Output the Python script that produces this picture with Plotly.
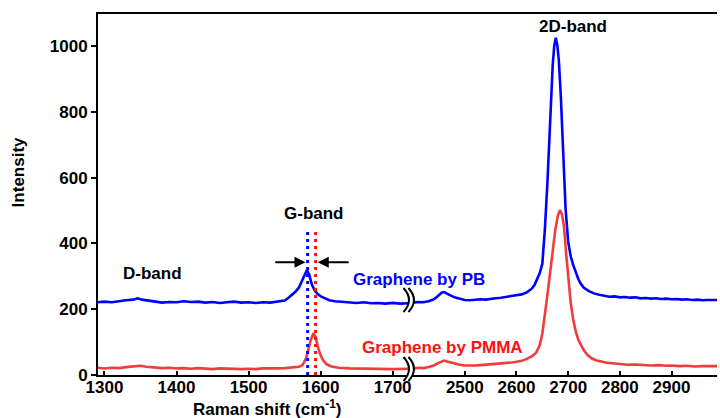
import plotly.graph_objects as go

# ---------------- data ----------------
# segment 1 (1291-1722 cm-1)
pb_x1 = [1291, 1300, 1310, 1320, 1330, 1340, 1346, 1352, 1360, 1370, 1380, 1390, 1400, 1410, 1420,
         1430, 1440, 1450, 1460, 1470, 1480, 1490, 1500, 1510, 1520, 1530, 1540, 1550, 1555, 1560,
         1565, 1570, 1575, 1578, 1581, 1584, 1588, 1592, 1596, 1601, 1606, 1612, 1620, 1630, 1640,
         1650, 1660, 1670, 1680, 1690, 1700, 1710, 1722]
pb_y1 = [221, 223, 221, 225, 227, 229, 233, 229, 227, 224, 220, 222, 221, 224, 222,
         223, 220, 222, 219, 221, 223, 220, 221, 219, 221, 220, 222, 226, 234, 243,
         253, 266, 288, 304, 319, 306, 274, 256, 246, 238, 232, 227, 224, 222, 221,
         219, 221, 218, 219, 217, 219, 217, 218]

pm_x1 = [1291, 1300, 1310, 1320, 1330, 1340, 1350, 1358, 1370, 1380, 1390, 1400, 1410, 1420, 1430,
         1440, 1450, 1460, 1470, 1480, 1490, 1500, 1510, 1520, 1530, 1540, 1550, 1560, 1570, 1575,
         1580, 1583, 1586, 1590, 1593, 1596, 1599, 1603, 1608, 1615, 1625, 1640, 1660, 1680, 1700,
         1722]
pm_y1 = [22, 20, 22, 21, 24, 26, 28, 25, 23, 21, 22, 20, 21, 19, 21,
         20, 18, 20, 19, 20, 18, 19, 18, 20, 19, 20, 21, 22, 25, 30,
         52, 78, 104, 127, 116, 88, 66, 46, 33, 26, 22, 20, 19, 20, 18,
         19]

# segment 2 (2391-2988 cm-1)
pb_x2 = [2391, 2400, 2410, 2420, 2430, 2440, 2448, 2455, 2460, 2466, 2472, 2480, 2490, 2500, 2510,
         2520, 2530, 2540, 2550, 2560, 2570, 2580, 2590, 2600, 2610, 2620, 2630, 2635, 2640, 2645,
         2650, 2655, 2660, 2665, 2670, 2673, 2676, 2679, 2682, 2686, 2690, 2695, 2700, 2705, 2710,
         2715, 2720, 2725, 2730, 2740, 2750, 2760, 2770, 2780, 2790, 2800, 2810, 2820, 2830, 2840,
         2850, 2860, 2870, 2880, 2890, 2900, 2910, 2920, 2930, 2940, 2950, 2960, 2970, 2980, 2988]
pb_y2 = [221, 220, 222, 221, 224, 230, 240, 250, 252, 248, 242, 236, 231, 228, 227,
         229, 230, 229, 232, 233, 235, 237, 239, 241, 245, 251, 263, 274, 290, 310,
         338, 445, 590, 780, 940, 1000, 1025, 1002, 955, 840, 690, 505, 405, 360, 333,
         308, 290, 276, 266, 255, 248, 244, 241, 238, 239, 236, 237, 235, 236, 233,
         234, 232, 233, 231, 232, 230, 231, 229, 230, 228, 229, 227, 228, 227, 228]

pm_x2 = [2391, 2400, 2410, 2420, 2430, 2440, 2448, 2455, 2460, 2466, 2472, 2480, 2490, 2500, 2510,
         2520, 2530, 2540, 2550, 2560, 2570, 2580, 2590, 2600, 2610, 2620, 2630, 2638, 2645, 2650,
         2655, 2660, 2665, 2670, 2675, 2680, 2684, 2688, 2692, 2696, 2700, 2705, 2710, 2715, 2720,
         2725, 2730, 2738, 2746, 2755, 2765, 2775, 2790, 2800, 2815, 2830, 2845, 2860, 2875, 2890,
         2900, 2915, 2930, 2945, 2960, 2975, 2988]
pm_y2 = [21, 20, 22, 21, 24, 29, 36, 42, 44, 41, 38, 34, 31, 29, 28,
         29, 30, 31, 32, 34, 35, 36, 38, 40, 43, 49, 57, 68, 90, 126,
         178, 245, 310, 375, 440, 484, 501, 488, 450, 370, 292, 218, 166, 130, 106,
         89, 76, 60, 50, 44, 40, 37, 35, 33, 31, 32, 30, 29, 30, 28,
         29, 27, 28, 26, 27, 26, 27]

x1_ticks = [1300, 1400, 1500, 1600, 1700]
x2_ticks = [2500, 2600, 2700, 2800, 2900]
y_ticks = [0, 200, 400, 600, 800, 1000]
g_pos_pb = 1582
g_pos_pm = 1593

BLUE = "#0000FF"
RED = "#F03C3C"
RED_TXT = "#FF1010"
FONT = "Arial, Liberation Sans, sans-serif"

fig = go.Figure()
fig.add_trace(go.Scatter(x=pb_x1, y=pb_y1, mode="lines", line=dict(color=BLUE, width=2.6),
                         xaxis="x", yaxis="y", showlegend=False))
fig.add_trace(go.Scatter(x=pm_x1, y=pm_y1, mode="lines", line=dict(color=RED, width=2.6),
                         xaxis="x", yaxis="y", showlegend=False))
fig.add_trace(go.Scatter(x=pb_x2, y=pb_y2, mode="lines", line=dict(color=BLUE, width=2.6),
                         xaxis="x2", yaxis="y", showlegend=False))
fig.add_trace(go.Scatter(x=pm_x2, y=pm_y2, mode="lines", line=dict(color=RED, width=2.6),
                         xaxis="x2", yaxis="y", showlegend=False))

L, R, T, B = 98, 0, 14, 43
W, H = 720, 418
PW, PH = W - L - R, H - T - B
split = (410 - L) / PW


def px(xp):
    return (xp - L) / PW


def py(yp):
    return (H - B - yp) / PH


tickfont = dict(family=FONT, size=17, color="black", weight="bold")
common_x = dict(showline=True, linecolor="black", linewidth=2, mirror=True, ticks="inside",
                ticklen=4, tickwidth=1.5, tickcolor="black", showgrid=False, zeroline=False,
                tickfont=tickfont, anchor="y", fixedrange=True, ticklabelstandoff=-4)

fig.update_layout(
    width=W, height=H, margin=dict(l=L, r=R, t=T, b=B),
    paper_bgcolor="white", plot_bgcolor="white",
    font=dict(family=FONT, color="black"),
    xaxis=dict(domain=[0, split], range=[1291, 1722], tickvals=x1_ticks, **common_x),
    xaxis2=dict(domain=[split, 1], range=[2391, 2988], tickvals=x2_ticks, **common_x),
    yaxis=dict(range=[0, 1097], tickvals=y_ticks, showline=True, linecolor="black", linewidth=2,
               ticks="outside", ticklen=5, tickwidth=1.5, tickcolor="black", showgrid=False,
               zeroline=False, tickfont=tickfont, mirror=False),
)

# dotted G-band position lines
for xv, col in [(g_pos_pb, BLUE), (g_pos_pm, RED_TXT)]:
    fig.add_shape(type="line", xref="x", yref="y", x0=xv, x1=xv, y0=0, y1=435,
                  line=dict(color=col, width=3, dash="3px,4px"))

# arrows
fig.add_annotation(x=1579, y=343, ax=1535, ay=343, xref="x", yref="y", axref="x", ayref="y",
                   showarrow=True, arrowhead=2, arrowsize=1.1, arrowwidth=2, arrowcolor="black", text="")
fig.add_annotation(x=1596, y=343, ax=1641, ay=343, xref="x", yref="y", axref="x", ayref="y",
                   showarrow=True, arrowhead=2, arrowsize=1.1, arrowwidth=2, arrowcolor="black", text="")


def label(xp, yp, text, color="black", size=17, angle=0):
    fig.add_annotation(x=px(xp), y=py(yp), xref="paper", yref="paper", text=text,
                       showarrow=False, xanchor="center", yanchor="middle", textangle=angle,
                       font=dict(family=FONT, size=size, color=color, weight="bold"))


label(153, 273, "D-band")
label(315, 213, "G-band")
label(575, 27, "2D-band")
label(421, 279, "Graphene by PB", BLUE)
label(444, 347, "Graphene by PMMA", RED_TXT)

# axis titles
label(268, 408, "Raman shift (cm<sup>-1</sup>)", size=17)
label(18, 172, "Intensity", size=17, angle=-90)

# axis break marks
for yc in (300, 369):
    yt, yb = yc - 12, yc + 12
    a0, a1 = 405, 410
    bulge = 11
    fill = (f"M {px(a0)},{py(yt)} Q {px(a0 + bulge)},{py(yc)} {px(a0)},{py(yb)} "
            f"L {px(a1)},{py(yb)} Q {px(a1 + bulge)},{py(yc)} {px(a1)},{py(yt)} Z")
    fig.add_shape(type="path", xref="paper", yref="paper", path=fill,
                  fillcolor="white", line=dict(width=0), layer="above")
    for a in (a0, a1):
        p = f"M {px(a)},{py(yt)} Q {px(a + bulge)},{py(yc)} {px(a)},{py(yb)}"
        fig.add_shape(type="path", xref="paper", yref="paper", path=p,
                      line=dict(color="black", width=2), layer="above")

fig.write_html("out.html")
